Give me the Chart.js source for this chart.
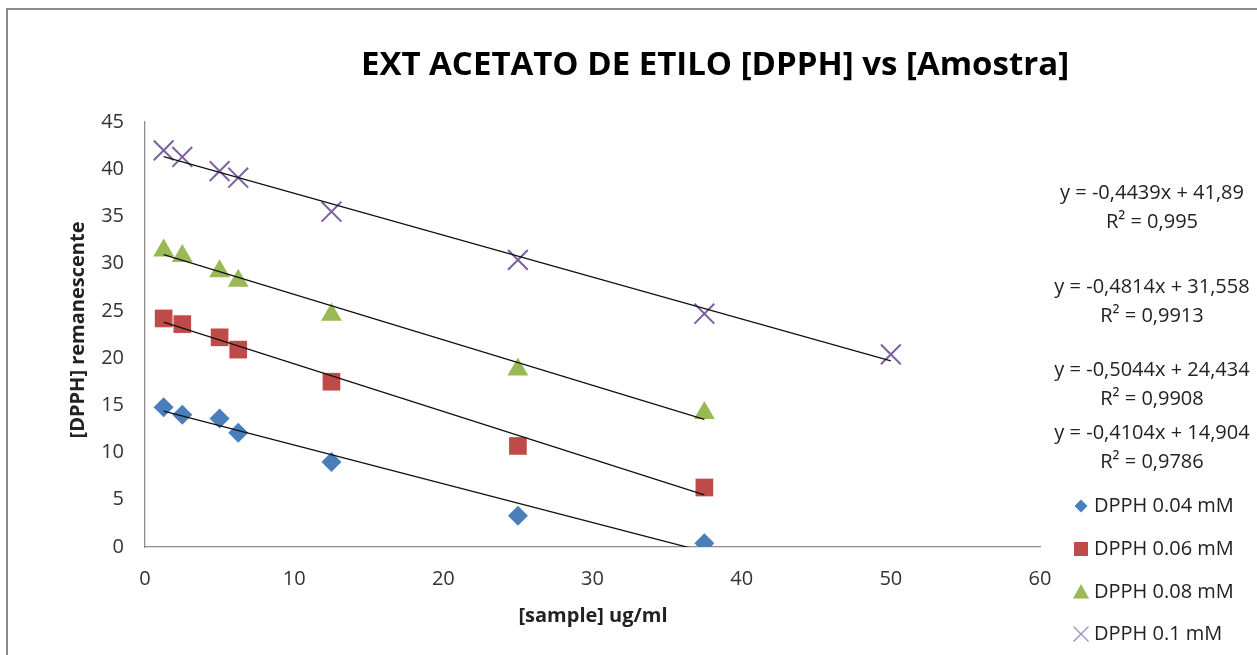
<!DOCTYPE html>
<html>
  <head>
    <title>DPPH vs Amostra</title>
    <script src="https://cdn.jsdelivr.net/npm/chart.js@4/dist/chart.umd.min.js"></script>
    <style>
      body { margin: 0; background: #fff; }
      #wrap { position: absolute; left: 0; top: 0; width: 1257px; height: 655px; }
    </style>
  </head>
  <body>
    <div id="wrap"><canvas id="dpph" width="1257" height="655"></canvas></div>
    <script>
    // sample concentrations (ug/ml)
    const xs = [1.25, 2.5, 5, 6.25, 12.5, 25, 37.5];
    const xs01 = [1.25, 2.5, 5, 6.25, 12.5, 25, 37.5, 50];

    // remaining DPPH
    const dpph004 = [14.8, 14.0, 13.6, 12.1, 9.0, 3.3, 0.4];
    const dpph006 = [24.2, 23.6, 22.2, 20.9, 17.5, 10.7, 6.3];
    const dpph008 = [31.4, 30.8, 29.2, 28.2, 24.6, 18.8, 14.2];
    const dpph01 = [42.0, 41.3, 39.8, 39.1, 35.5, 30.4, 24.7, 20.4];

    const seriesNames = ['DPPH 0.04 mM', 'DPPH 0.06 mM', 'DPPH 0.08 mM', 'DPPH 0.1 mM'];
    // linear trend coefficients printed on the chart
    const slopes = [-0.4104, -0.5044, -0.4814, -0.4439];
    const intercepts = [14.904, 24.434, 31.558, 41.89];
    const r2 = ['0,9786', '0,9908', '0,9913', '0,995'];
    const eqText = ['y = -0,4104x + 14,904', 'y = -0,5044x + 24,434', 'y = -0,4814x + 31,558', 'y = -0,4439x + 41,89'];

    const yTicks = [0, 5, 10, 15, 20, 25, 30, 35, 40, 45];
    const xTicks = [0, 10, 20, 30, 40, 50, 60];

    const colors = ['#4a7ebb', '#be4b48', '#98b954', '#7d60a0'];
    const styles = ['rectRot', 'rect', 'triangle', 'crossRot'];
    const radii = [10, 12.5, 12, 14];

    const FONT = "'Open Sans', 'Noto Sans', sans-serif";

    function pts(x, y) {
      return y.map((v, i) => ({ x: x[i], y: v }));
    }
    function trend(k, x) {
      const a = x[0], b = x[x.length - 1];
      return [{ x: a, y: slopes[k] * a + intercepts[k] }, { x: b, y: slopes[k] * b + intercepts[k] }];
    }

    const allX = [xs, xs, xs, xs01];
    const allY = [dpph004, dpph006, dpph008, dpph01];

    const datasets = [];
    for (let k = 0; k < 4; k++) {
      datasets.push({
        label: seriesNames[k],
        data: pts(allX[k], allY[k]),
        showLine: false,
        pointStyle: styles[k],
        pointRadius: radii[k],
        pointHoverRadius: radii[k],
        backgroundColor: colors[k],
        borderColor: colors[k],
        pointBorderWidth: k == 3 ? 2 : 0,
        order: 2
      });
    }
    for (let k = 0; k < 4; k++) {
      datasets.push({
        label: 'trend ' + k,
        data: trend(k, allX[k]),
        showLine: true,
        borderColor: '#111',
        borderWidth: 1.3,
        pointRadius: 0,
        fill: false,
        order: 1
      });
    }

    function marker(ctx, style, x, y, r, color) {
      ctx.save();
      ctx.fillStyle = color;
      ctx.strokeStyle = color;
      ctx.beginPath();
      if (style == 'rectRot') {
        ctx.moveTo(x, y - r); ctx.lineTo(x + r, y); ctx.lineTo(x, y + r); ctx.lineTo(x - r, y);
        ctx.closePath(); ctx.fill();
      } else if (style == 'rect') {
        ctx.rect(x - r, y - r, 2 * r, 2 * r); ctx.fill();
      } else if (style == 'triangle') {
        ctx.moveTo(x, y - r); ctx.lineTo(x + r, y + r * 0.8); ctx.lineTo(x - r, y + r * 0.8);
        ctx.closePath(); ctx.fill();
      } else {
        ctx.lineWidth = 1.2;
        ctx.moveTo(x - r, y - r); ctx.lineTo(x + r, y + r);
        ctx.moveTo(x + r, y - r); ctx.lineTo(x - r, y + r);
        ctx.stroke();
      }
      ctx.restore();
    }

    const extras = {
      id: 'extras',
      beforeDraw(chart) {
        const ctx = chart.ctx;
        ctx.save();
        ctx.fillStyle = '#fff';
        ctx.fillRect(0, 0, chart.width, chart.height);
        // outer frame (cropped)
        ctx.strokeStyle = '#8a8a8a';
        ctx.lineWidth = 2;
        ctx.beginPath();
        ctx.moveTo(7, chart.height);
        ctx.lineTo(7, 9);
        ctx.lineTo(chart.width, 9);
        ctx.stroke();
        ctx.restore();
      },
      afterDraw(chart) {
        const ctx = chart.ctx;
        ctx.save();
        // title
        ctx.fillStyle = '#000';
        ctx.textAlign = 'center';
        ctx.textBaseline = 'middle';
        ctx.font = "bold 33px " + FONT;
        ctx.fillText('EXT ACETATO DE ETILO [DPPH] vs [Amostra]', 715, 66);
        // axis titles
        ctx.font = "bold 20px " + FONT;
        ctx.fillStyle = '#222';
        ctx.fillText('[sample] ug/ml', 593, 616);
        ctx.save();
        ctx.translate(78, 330);
        ctx.rotate(-Math.PI / 2);
        ctx.fillText('[DPPH] remanescente', 0, 0);
        ctx.restore();
        // trend equations
        ctx.font = "20px " + FONT;
        const eqY = [433, 370, 287, 193];
        for (let k = 0; k < 4; k++) {
          ctx.fillText(eqText[k], 1152, eqY[k]);
          ctx.fillText('R\u00b2 = ' + r2[k], 1152, eqY[k] + 29);
        }
        // legend
        const legY = [506, 549, 592, 634];
        const legR = [6.5, 7, 8, 7.5];
        ctx.textAlign = 'left';
        for (let k = 0; k < 4; k++) {
          marker(ctx, styles[k], 1081, legY[k], legR[k], k == 3 ? '#9d88bc' : colors[k]);
          ctx.fillStyle = '#222';
          ctx.fillText(seriesNames[k], 1094, legY[k]);
        }
        ctx.restore();
      }
    };

    new Chart(document.getElementById('dpph'), {
      type: 'scatter',
      data: { datasets: datasets },
      plugins: [extras],
      options: {
        responsive: false,
        animation: false,
        layout: { padding: { top: 122, right: 217, bottom: 0, left: 0 } },
        plugins: {
          legend: { display: false },
          tooltip: { enabled: false }
        },
        scales: {
          x: {
            type: 'linear',
            min: 0,
            max: 60,
            afterFit(s) { s.height = 108; },
            afterBuildTicks(s) { s.ticks = xTicks.map(v => ({ value: v })); },
            grid: { display: false, drawTicks: false },
            border: { display: true, color: '#8c8c8c', width: 1.3 },
            ticks: { color: '#333', font: { family: FONT, size: 20 }, padding: 20 }
          },
          y: {
            min: 0,
            max: 45,
            afterFit(s) { s.width = 145; },
            afterBuildTicks(s) { s.ticks = yTicks.map(v => ({ value: v })); },
            grid: { display: false, drawTicks: false },
            border: { display: true, color: '#8c8c8c', width: 1.3 },
            ticks: { color: '#333', font: { family: FONT, size: 20 }, padding: 21 }
          }
        }
      }
    });
    </script>
  </body>
</html>
